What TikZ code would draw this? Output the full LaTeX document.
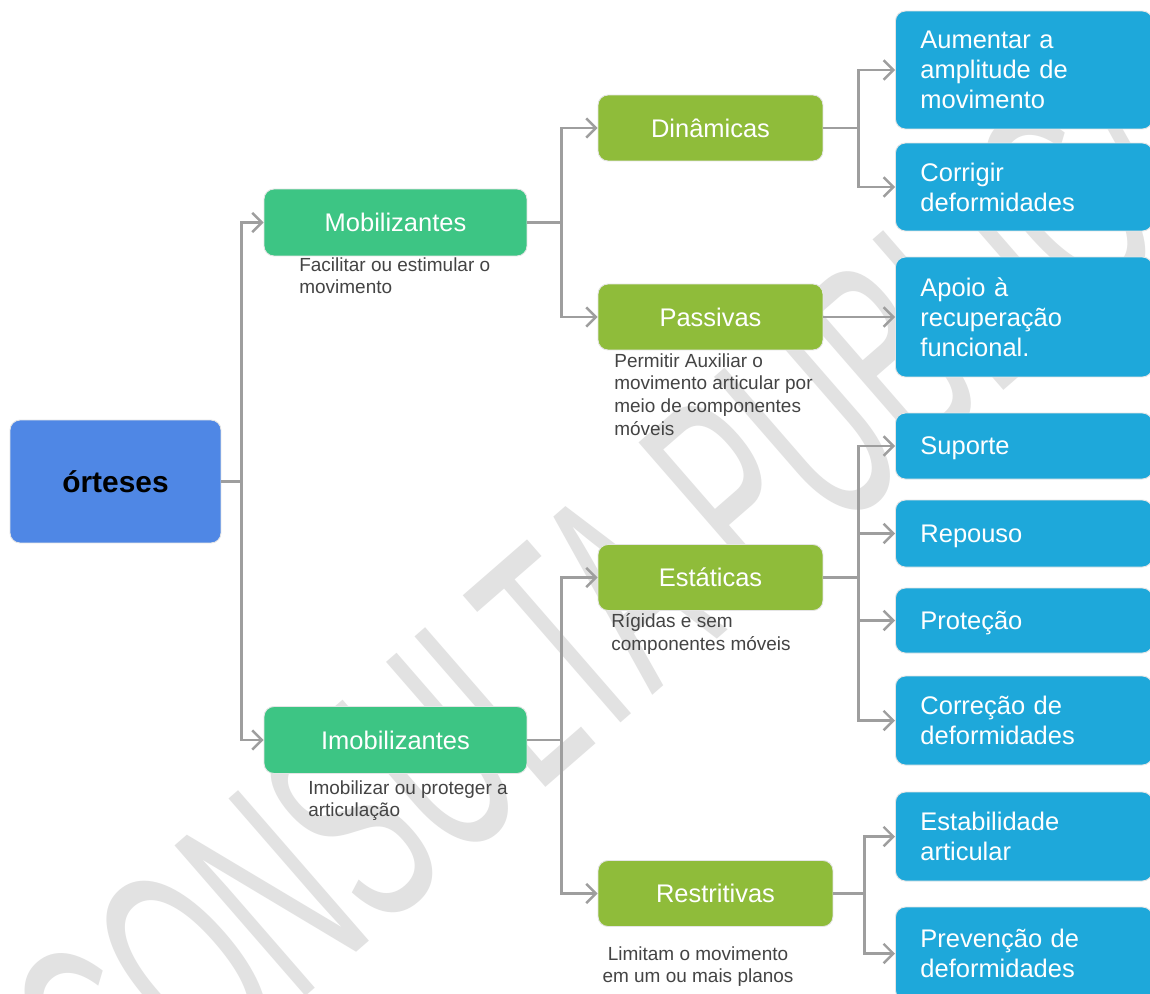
\documentclass[tikz,border=0pt]{standalone}
\usepackage{fontspec}
\setmainfont{Liberation Sans}
\usetikzlibrary{arrows.meta}
\definecolor{rootblue}{HTML}{4F87E5}
\definecolor{mobgreen}{HTML}{3DC584}
\definecolor{olive}{HTML}{8FBC3A}
\definecolor{leafblue}{HTML}{1EA8DA}
\definecolor{linegray}{HTML}{9E9E9E}
\definecolor{notegray}{HTML}{444444}

\begin{document}
\begin{tikzpicture}[x=0.02cm,y=-0.02cm,
  box/.style={rectangle,rounded corners=0.2cm,draw=black!10,line width=0.5pt,text=white,font=\fontsize{14.5}{17}\selectfont},
  topbox/.style={box,fill=mobgreen,minimum width=5.26cm,minimum height=1.34cm},
  midbox/.style={box,fill=olive,minimum width=4.5cm,minimum height=1.32cm},
  leaf/.style={box,fill=leafblue,anchor=west,text width=4.14cm,align=left,inner xsep=0.5cm,minimum height=#1},
  note/.style={text=notegray,font=\fontsize{10.8}{13}\selectfont,align=left,anchor=north west,inner sep=0pt},
  wire/.style={draw=linegray,line width=1.4pt},
  arr/.style={wire,-{Straight Barb[length=5.5pt,width=11pt]}}]
  \path[use as bounding box,fill=white] (0,0) rectangle (1150,994);
  \node[text=gray!23,font=\fontsize{165}{165}\selectfont,rotate=41,xscale=0.52] (wm) at (605,572) {CONSULTA PÚBLICA};

  \node[box,fill=rootblue,text=black,font=\fontsize{17}{20}\selectfont\bfseries,minimum width=4.22cm,minimum height=2.46cm] (ort) at (115.5,481.5) {órteses};
  \node[topbox] (mob) at (395.5,222.5) {Mobilizantes};
  \node[topbox] (imob) at (395.5,740) {Imobilizantes};
  \node[midbox] (din) at (710.5,128) {Dinâmicas};
  \node[midbox] (pas) at (710.5,317) {Passivas};
  \node[midbox] (est) at (710.5,577.5) {Estáticas};
  \node[midbox,minimum width=4.7cm] (res) at (715.5,893.5) {Restritivas};

  \node[leaf=2.36cm] (aum) at (895,70) {Aumentar a\\amplitude de\\movimento};
  \node[leaf=1.76cm] (cor) at (895,187) {Corrigir\\deformidades};
  \node[leaf=2.4cm] (apo) at (895,317) {Apoio à\\recuperação\\funcional.};
  \node[leaf=1.32cm,text depth=0pt] (sup) at (895,446) {Suporte};
  \node[leaf=1.34cm,text depth=0pt] (rep) at (895,533.5) {Repouso};
  \node[leaf=1.3cm,text depth=0pt] (pro) at (895,620.5) {Proteção};
  \node[leaf=1.78cm] (cde) at (895,720.5) {Correção de\\deformidades};
  \node[leaf=1.78cm] (eas) at (895,836.5) {Estabilidade\\articular};
  \node[leaf=1.86cm] (pre) at (895,953.5) {Prevenção de\\deformidades};

  \node[note] (nmob) at (299,257) {Facilitar ou estimular o\\movimento};
  \node[note] (npas) at (614,353) {Permitir Auxiliar o\\movimento articular por\\meio de componentes\\móveis};
  \node[note] (nest) at (611,613) {Rígidas e sem\\componentes móveis};
  \node[note] (nimob) at (308,780) {Imobilizar ou proteger a\\articulação};
  \node[note,align=center,anchor=north] (nres) at (698,946) {Limitam o movimento\\em um ou mais planos};

  \foreach \t in {mob,imob} \draw[arr] (ort.east) -- ++(20,0) |- (\t.west);
  \foreach \t in {din,pas} \draw[arr] (mob.east) -- ++(34,0) |- (\t.west);
  \foreach \t in {est,res} \draw[arr] (imob.east) -- ++(34,0) |- (\t.west);
  \foreach \t in {aum,cor} \draw[arr] (din.east) -- ++(35,0) |- (\t.west);
  \draw[arr] (pas.east) -- (apo.west);
  \foreach \t in {sup,rep,pro,cde} \draw[arr] (est.east) -- ++(35,0) |- (\t.west);
  \foreach \t in {eas,pre} \draw[arr] (res.east) -- ++(31,0) |- (\t.west);
\end{tikzpicture}
\end{document}
